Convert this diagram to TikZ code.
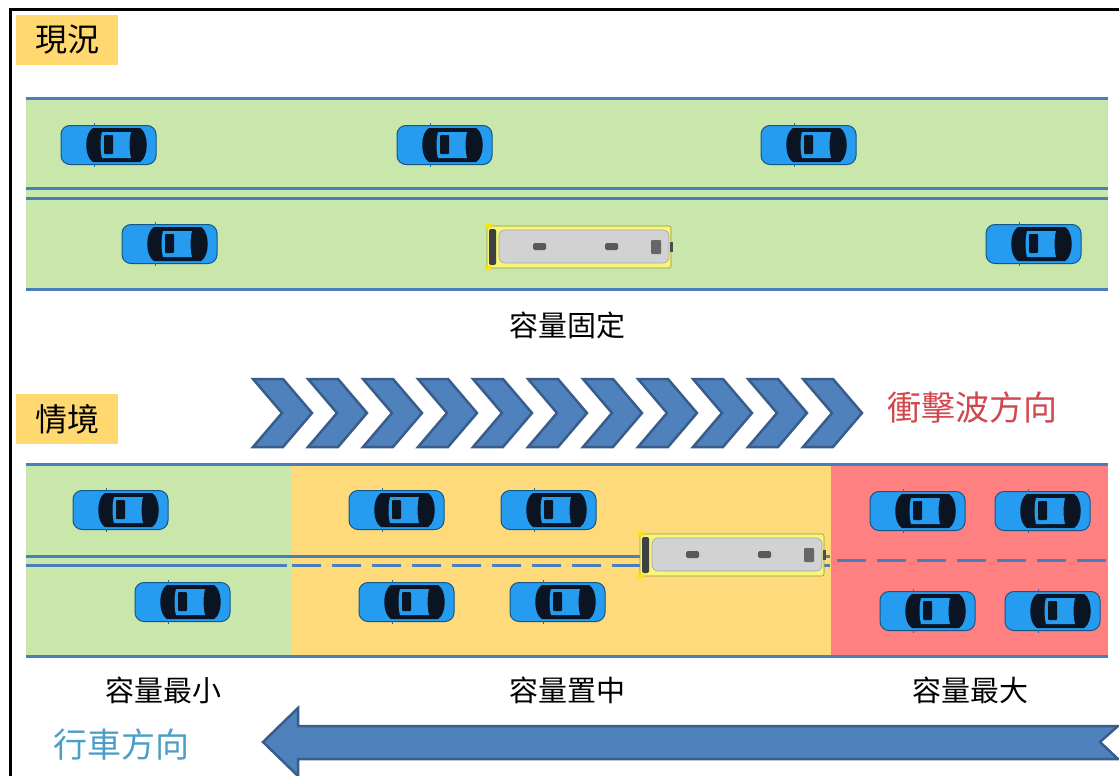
\documentclass[tikz,border=0pt]{standalone}
\usepackage{fontspec}
\usepackage{xcolor}
\usepackage{tikz}
\usetikzlibrary{positioning}
\newfontfamily\cjk{Noto Sans CJK TC}

\definecolor{lanegreen}{RGB}{201,230,171}
\definecolor{laneyellow}{RGB}{255,218,122}
\definecolor{lanered}{RGB}{255,128,128}
\definecolor{tagyellow}{RGB}{255,217,112}
\definecolor{roadline}{RGB}{74,126,187}
\definecolor{arrowfill}{RGB}{79,129,189}
\definecolor{arrowedge}{RGB}{56,93,138}
\definecolor{carblue}{RGB}{38,156,240}
\definecolor{cardark}{RGB}{10,20,34}
\definecolor{busyellow}{RGB}{246,246,120}
\definecolor{busgrey}{RGB}{210,210,210}
\definecolor{shockred}{RGB}{208,72,78}
\definecolor{driveblue}{RGB}{76,158,200}

\begin{document}
\begin{tikzpicture}[
    x=1pt, y=-1pt,
    every node/.style = {font=\cjk, inner sep=0pt},
    tag/.style = {fill=tagyellow, minimum width=102pt, minimum height=50pt,
                  font=\cjk\fontsize{32}{36}\selectfont},
    caption/.style = {font=\cjk\fontsize{29}{32}\selectfont},
    bigword/.style = {font=\cjk\fontsize{34}{38}\selectfont},
    line/.style = {draw=roadline, line width=3pt},
    dashline/.style = {line, dash pattern=on 29pt off 11pt},
    chevron/.style = {fill=arrowfill, draw=arrowedge, line width=2.5pt, line join=miter},
    car/.pic = {
        \filldraw[fill=carblue, draw=carblue!55!black, line width=1pt, rounded corners=9pt]
            (-47,-19.5) rectangle (48,19.5);
        % windscreen, side windows and rear window
        \fill[cardark] (-15,-17) .. controls (-24,-12) and (-24,12) .. (-15,17)
            -- (32,17) .. controls (41,12) and (41,-12) .. (32,-17) -- cycle;
        \fill[carblue] (-6,-13) .. controls (-8,-5) and (-8,5) .. (-6,13)
            -- (23,13) .. controls (21,5) and (21,-5) .. (23,-13) -- cycle;  % roof
        \fill[cardark, rounded corners=1pt] (-4,-10) rectangle (5,9);     % sunroof
        \draw[carblue!70!black, line width=1pt] (-14,-19) -- (-14,-22) (-14,19) -- (-14,22);
    },
    bus/.pic = {
        \filldraw[fill=busyellow, draw=busyellow!60!black, line width=0.6pt, rounded corners=2pt]
            (-90,-21) rectangle (94,21);
        \filldraw[fill=busgrey, draw=black!35, line width=0.6pt, rounded corners=6pt]
            (-78,-17) rectangle (92,16);
        \fill[black!75, rounded corners=2pt] (-88,-18) rectangle (-81,18);  % windscreen
        \fill[yellow!85!orange] (-92,-23) rectangle (-86,-19) (-92,19) rectangle (-86,23);
        \fill[black!65, rounded corners=1.5pt] (-44,-4) rectangle (-31,3)
                                               (28,-4) rectangle (41,3);
        \fill[black!60, rounded corners=1pt] (74,-7) rectangle (84,7);
        \fill[black!70] (93,-5) rectangle (96,5);
    }
  ]
    \useasboundingbox (0,0) rectangle (1119,776);
    \draw[line width=3pt] (10,776) -- (10,10) -- (1119,10);  % frame

    % --- present road ---
    \node[tag] (now) at (67,40) {現況};
    \fill[lanegreen] (26,97) rectangle (1108,290);
    \draw[line] (26,98) -- (1108,98) (26,188) -- (1108,188)
                (26,198) -- (1108,198) (26,289) -- (1108,289);
    \foreach \cx in {108,444,808} \pic at (\cx,145) {car};
    \foreach \cx in {169,1033} \pic at (\cx,244) {car};
    \pic at (577,247) {bus};
    \node[caption] (capfixed) at (567,325) {容量固定};

    % --- shock wave ---
    \node[tag] (scene) at (67,419) {情境};
    \foreach \i in {0,...,10}
        \filldraw[chevron] ({253+55*\i},379) -- ++(30,0) -- ++(29,34)
            -- ++(-29,34) -- ++(-30,0) -- ++(29,-34) -- cycle;
    \node[bigword, text=shockred] (shockdir) at (972,408) {衝擊波方向};

    % --- scenario road ---
    \fill[lanegreen] (26,463) rectangle (291,657);
    \fill[laneyellow] (291,463) rectangle (831,657);
    \fill[lanered] (831,463) rectangle (1108,657);
    \draw[line] (26,464) -- (1108,464) (26,656) -- (1108,656);
    \draw[line] (26,556) -- (830,556) (26,565) -- (287,565);
    \draw[dashline] (292,565) -- (830,565);
    \draw[dashline] (837,560) -- (1108,560);
    \foreach \cx/\cy in {120/510, 182/602, 396/510, 548/510, 406/602, 557/602,
                         917/511, 1042/511, 927/611, 1052/611}
        \pic at (\cx,\cy) {car};
    \pic at (730,555) {bus};
    \node[caption] (capmin) at (163,690) {容量最小};
    \node[caption] (capmid) at (567,690) {容量置中};
    \node[caption] (capmax) at (970,690) {容量最大};

    % --- driving direction ---
    \filldraw[chevron] (263,742) -- (298,708) -- (298,726) -- (1118,726) -- (1100,742)
        -- (1118,759) -- (298,759) -- (298,776) -- cycle;
    \node[bigword, text=driveblue] (drivedir) at (121,745) {行車方向};
\end{tikzpicture}
\end{document}
